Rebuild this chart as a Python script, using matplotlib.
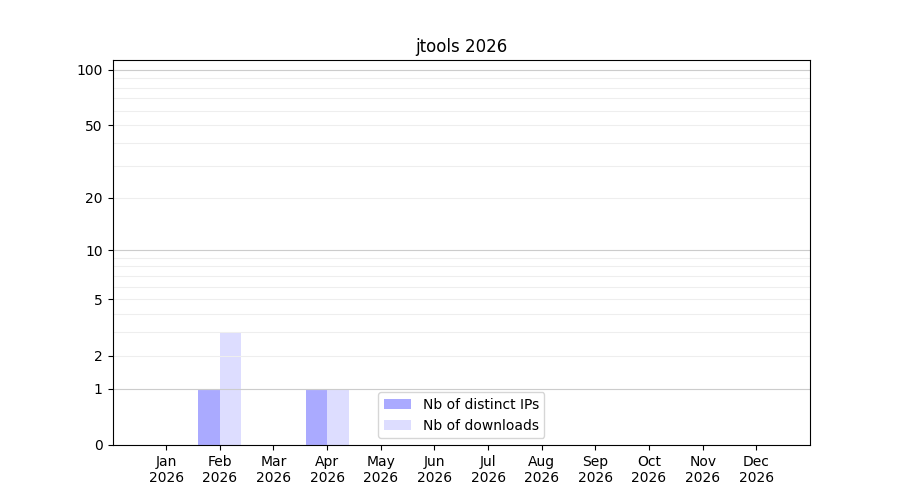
import numpy as np
import matplotlib
matplotlib.use("Agg")
import matplotlib.pyplot as plt

months = ["Jan", "Feb", "Mar", "Apr", "May", "Jun", "Jul", "Aug", "Sep", "Oct", "Nov", "Dec"]
year = "2026"
distinct_ips = [0, 1, 0, 1, 0, 0, 0, 0, 0, 0, 0, 0]
downloads = [0, 3, 0, 1, 0, 0, 0, 0, 0, 0, 0, 0]

major_ticks = [0, 1, 2, 5, 10, 20, 50, 100]
minor_ticks = [3, 4, 6, 7, 8, 9, 30, 40, 60, 70, 80, 90]
strong_lines = [1, 10, 100]

fig, ax = plt.subplots(figsize=(9, 5), dpi=100)

x = np.arange(len(months))
width = 0.4
ax.bar(x, distinct_ips, width=-width, align="edge", color="#aaaaff", label="Nb of distinct IPs")
ax.bar(x, downloads, width=width, align="edge", color="#ddddff", label="Nb of downloads")

ax.set_yscale("function", functions=(lambda v: np.log10(1 + np.maximum(v, 0)),
                                     lambda v: 10 ** v - 1))
ax.set_ylim(0, 113)
ax.set_yticks(major_ticks)
ax.set_yticklabels([str(t) for t in major_ticks])
ax.set_yticks(minor_ticks, minor=True)
ax.tick_params(axis="y", which="minor", length=0)
ax.grid(axis="y", which="both", color="#eeeeee", linewidth=0.8)
for v in strong_lines:
    ax.axhline(v, color="#cccccc", linewidth=0.8, zorder=1.6)

ax.set_xlim(-1, 12)
ax.set_xticks(x)
ax.set_xticklabels([m + "\n" + year for m in months])

ax.set_title("jtools 2026")
ax.legend(loc="lower center")

plt.savefig("out.png")
